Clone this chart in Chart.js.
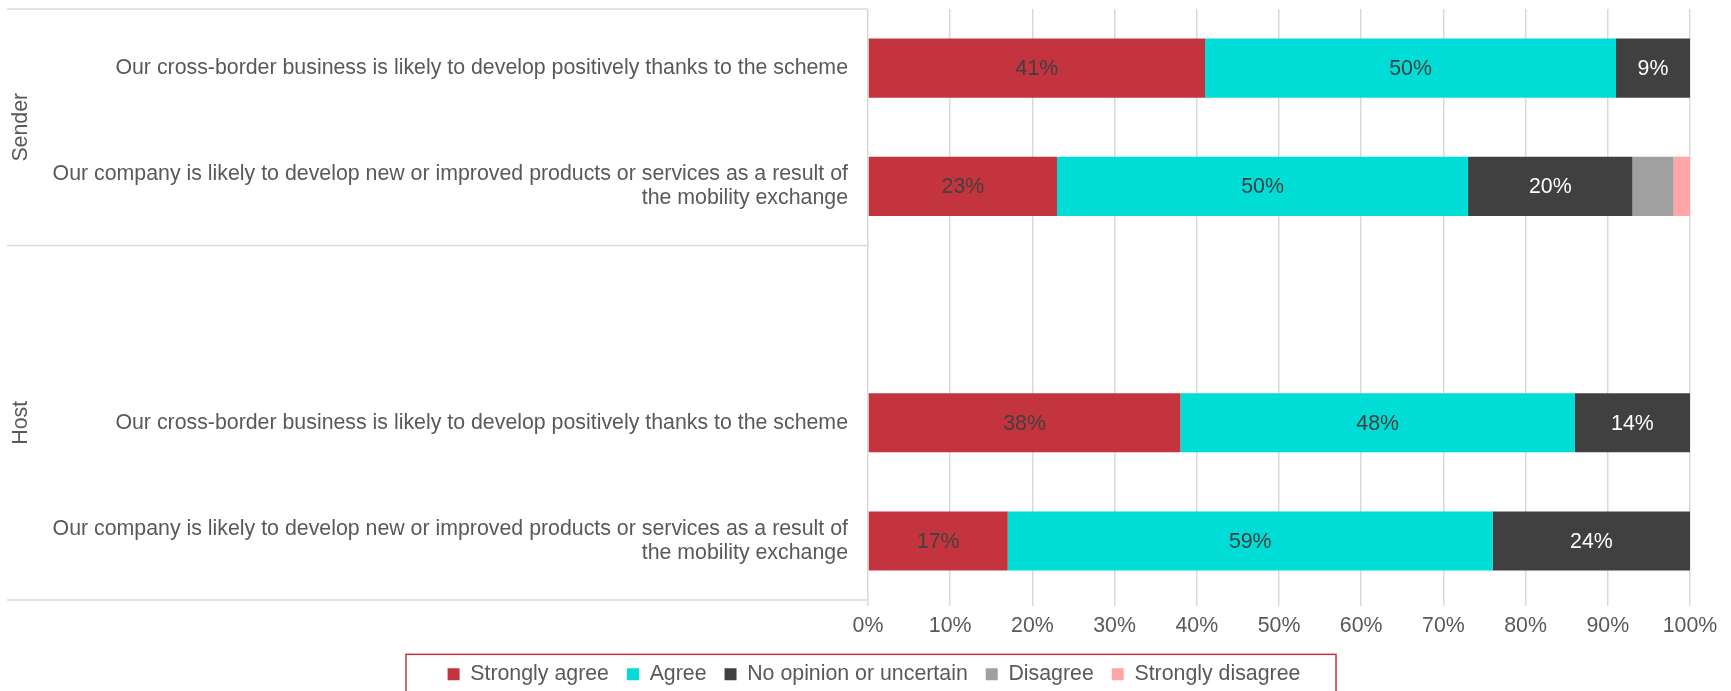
<!DOCTYPE html>
<html>
<head>
<meta charset="utf-8">
<script src="https://cdn.jsdelivr.net/npm/chart.js@4.4.1/dist/chart.umd.min.js"></script>
<style>
    body { margin: 0; background: #ffffff; }
    #chart-wrap { width: 1731px; height: 691px; position: relative; }
</style>
</head>
<body>
<div id="chart-wrap"><canvas id="myBarChart"></canvas></div>
<script>
const categories = [
    'Our cross-border business is likely to develop positively thanks to the scheme',
    ['Our company is likely to develop new or improved products or services as a result of', 'the mobility exchange'],
    '',
    'Our cross-border business is likely to develop positively thanks to the scheme',
    ['Our company is likely to develop new or improved products or services as a result of', 'the mobility exchange']
];

const groupNames = ['Sender', 'Host'];
const groupSizes = [2, 3];

const stronglyAgree = [41, 23, null, 38, 17];
const agree = [50, 50, null, 48, 59];
const noOpinion = [9, 20, null, 14, 24];
const disagree = [0, 5, null, 0, 0];
const stronglyDisagree = [0, 2, null, 0, 0];

const xTicks = [0, 10, 20, 30, 40, 50, 60, 70, 80, 90, 100];

const textColor = '#595959';
const lineColor = '#d9d9d9';
const fontFamily = '"Liberation Sans", Arial, sans-serif';
const fontSize = 21.33;

// group labels (Sender / Host) and the separator lines on the left side
const groupPlugin = {
    id: 'groupPlugin',
    afterDraw(chart) {
        const ctx = chart.ctx;
        const y = chart.scales.y;
        const area = chart.chartArea;
        const half = (y.getPixelForValue(1) - y.getPixelForValue(0)) / 2;

        ctx.save();
        ctx.strokeStyle = lineColor;
        ctx.lineWidth = 1.5;
        let start = 0;
        const edges = [area.top];
        groupSizes.forEach(size => {
            edges.push(y.getPixelForValue(start + size - 1) + half);
            start += size;
        });
        edges.forEach(py => {
            ctx.beginPath();
            ctx.moveTo(7, py);
            ctx.lineTo(area.left, py);
            ctx.stroke();
        });

        ctx.fillStyle = textColor;
        ctx.font = fontSize + 'px ' + fontFamily;
        ctx.textAlign = 'center';
        ctx.textBaseline = 'middle';
        groupNames.forEach((name, i) => {
            const mid = (edges[i] + edges[i + 1]) / 2;
            ctx.save();
            ctx.translate(21, mid);
            ctx.rotate(-Math.PI / 2);
            ctx.fillText(name, 0, 0);
            ctx.restore();
        });
        ctx.restore();
    }
};

// percentage labels inside the bars
const valueLabelPlugin = {
    id: 'valueLabelPlugin',
    afterDatasetsDraw(chart) {
        const ctx = chart.ctx;
        ctx.save();
        ctx.font = fontSize + 'px ' + fontFamily;
        ctx.textAlign = 'center';
        ctx.textBaseline = 'middle';
        chart.data.datasets.forEach((ds, i) => {
            if (!ds.labelColor) return;
            const meta = chart.getDatasetMeta(i);
            meta.data.forEach((bar, j) => {
                const v = ds.data[j];
                if (!v) return;
                const c = bar.getCenterPoint();
                ctx.fillStyle = ds.labelColor;
                ctx.fillText(v + '%', c.x, c.y + 1);
            });
        });
        ctx.restore();
    }
};

// red frame round the legend
const legendBoxPlugin = {
    id: 'legendBoxPlugin',
    afterDraw(chart) {
        const legend = chart.legend;
        const boxes = legend.legendHitBoxes;
        if (!boxes || !boxes.length) return;
        const center = (legend.left + legend.right) / 2;
        const mid = boxes[0].top + boxes[0].height / 2;
        const ctx = chart.ctx;
        ctx.save();
        ctx.strokeStyle = '#c4343f';
        ctx.lineWidth = 1.5;
        ctx.strokeRect(center - 468, mid - 20, 930, 60);
        ctx.restore();
    }
};

const ctx = document.getElementById('myBarChart').getContext('2d');
window.myBarChart = new Chart(ctx, {
    type: 'bar',
    data: {
        labels: categories,
        datasets: [
            { label: 'Strongly agree', data: stronglyAgree, backgroundColor: '#c4343f', labelColor: '#404040' },
            { label: 'Agree', data: agree, backgroundColor: '#00dcd6', labelColor: '#404040' },
            { label: 'No opinion or uncertain', data: noOpinion, backgroundColor: '#404040', labelColor: '#ffffff' },
            { label: 'Disagree', data: disagree, backgroundColor: '#a0a0a0' },
            { label: 'Strongly disagree', data: stronglyDisagree, backgroundColor: '#ffa6a8' }
        ]
    },
    options: {
        indexAxis: 'y',
        responsive: true,
        maintainAspectRatio: false,
        animation: false,
        datasets: {
            bar: { categoryPercentage: 1, barPercentage: 0.5, borderWidth: 0 }
        },
        layout: {
            padding: { top: 9, right: 0, bottom: -4, left: 17 }
        },
        scales: {
            x: {
                stacked: true,
                min: 0,
                max: 100,
                afterBuildTicks: scale => {
                    scale.ticks = xTicks.map(v => ({ value: v }));
                },
                afterFit: scale => {
                    // room on the right of the plot, legend stays centred on the page
                    scale.paddingRight = 41;
                },
                grid: { color: lineColor, lineWidth: 1.5, tickLength: 6 },
                border: { display: false },
                ticks: {
                    padding: 7,
                    color: textColor,
                    font: { family: fontFamily, size: fontSize },
                    callback: value => value + '%'
                }
            },
            y: {
                stacked: true,
                afterFit: scale => {
                    scale.width = 851;
                    // the long labels must not push the plot area inwards
                    scale.paddingTop = 0;
                    scale.paddingBottom = 0;
                },
                grid: { display: false, drawTicks: false },
                border: { display: false },
                ticks: {
                    padding: 20,
                    color: textColor,
                    font: { family: fontFamily, size: fontSize, lineHeight: 1.1 }
                }
            }
        },
        plugins: {
            legend: {
                position: 'bottom',
                labels: {
                    boxWidth: 12,
                    boxHeight: 12,
                    padding: 18,
                    color: textColor,
                    font: { family: fontFamily, size: fontSize }
                }
            },
            tooltip: { enabled: false }
        }
    },
    plugins: [groupPlugin, valueLabelPlugin, legendBoxPlugin]
});
</script>
</body>
</html>
